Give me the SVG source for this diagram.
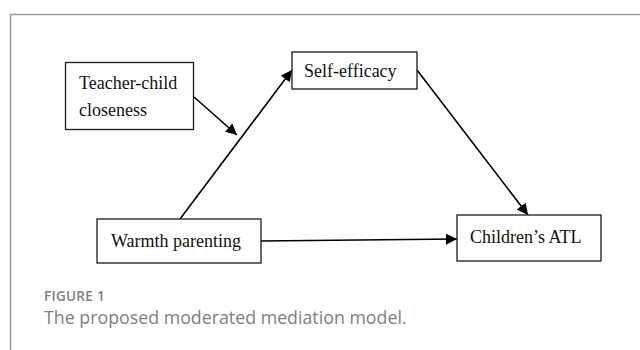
<svg xmlns="http://www.w3.org/2000/svg" width="640" height="350" viewBox="0 0 640 350">
<style>
.box{fill:#fff;stroke:#1a1a1a;stroke-width:1.3}
.lbl{font-family:"Liberation Serif","Times New Roman",serif;font-size:18px;fill:#111}
.edge{stroke:#000;stroke-width:1.6;fill:none;marker-end:url(#ah)}
.cap{font-family:"Open Sans","Noto Sans",sans-serif;fill:#808080}
</style>
<defs>
<marker id="ah" viewBox="0 0 10 10" refX="10" refY="5" markerWidth="7" markerHeight="7" markerUnits="strokeWidth" orient="auto">
<path d="M0,0 L10,5 L0,10 z" fill="#000"/>
</marker>
</defs>
<rect width="640" height="350" fill="#fff"/>
<path d="M10.5,350 V14.5 H640" fill="none" stroke="#9a9a9a" stroke-width="1.5"/>
<g id="connectors">
<line class="edge" x1="180" y1="219" x2="292" y2="70"/>
<line class="edge" x1="194" y1="97" x2="237" y2="135"/>
<line class="edge" x1="417" y1="70" x2="528" y2="215"/>
<line class="edge" x1="261" y1="241" x2="457" y2="239"/>
</g>
<g id="teacher">
<rect class="box" x="65.5" y="62.5" width="128" height="67"/>
<text class="lbl" x="79" y="89">Teacher-child</text>
<text class="lbl" x="79" y="116">closeness</text>
</g>
<g id="selfefficacy">
<rect class="box" x="292" y="52" width="125" height="37"/>
<text class="lbl" x="304" y="77">Self-efficacy</text>
</g>
<g id="warmth">
<rect class="box" x="97" y="219" width="164" height="44"/>
<text class="lbl" x="111" y="247">Warmth parenting</text>
</g>
<g id="atl">
<rect class="box" x="457" y="215" width="144" height="46"/>
<text class="lbl" x="470" y="243">Children’s ATL</text>
</g>
<text class="cap" x="44" y="301" font-size="13.5" font-weight="600" letter-spacing="0.3">FIGURE 1</text>
<text class="cap" x="44" y="324" font-size="17.8">The proposed moderated mediation model.</text>
</svg>
